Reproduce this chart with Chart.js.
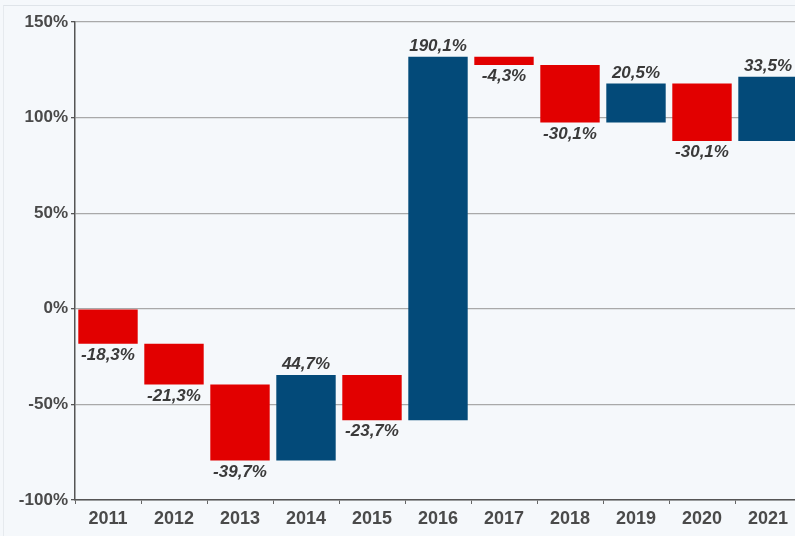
<!DOCTYPE html>
<html>
<head>
<meta charset="utf-8">
<script src="https://cdn.jsdelivr.net/npm/chart.js@4"></script>
<style>
  html, body { margin: 0; padding: 0; overflow: hidden; background: #f5f8fb; }
  #frame { position: absolute; left: 3px; top: 5px; width: 820px; height: 540px;
           border-top: 1px solid #dfe4e9; border-left: 1px solid #e6eaee; }
  #wrap { position: absolute; left: 0; top: 0; width: 801px; height: 536px; }
</style>
</head>
<body>
<div id="frame"></div>
<div id="wrap"><canvas id="myChart"></canvas></div>
<script>
const anos = ['2011', '2012', '2013', '2014', '2015', '2016', '2017', '2018', '2019', '2020', '2021'];
// variação anual em %
const variacoes = [-18.3, -21.3, -39.7, 44.7, -23.7, 190.1, -4.3, -30.1, 20.5, -30.1, 33.5];
const yTicks = [-100, -50, 0, 50, 100, 150];

const VERMELHO = '#e20000';
const AZUL = '#034a79';

// monta as barras flutuantes da cascata (início, fim)
const faixas = [];
let acumulado = 0;
variacoes.forEach(v => {
  faixas.push([acumulado, acumulado + v]);
  acumulado += v;
});
const cores = variacoes.map(v => v < 0 ? VERMELHO : AZUL);

function formatPct(v) {
  return v.toFixed(1).replace('.', ',') + '%';
}

const rotulos = {
  id: 'rotulos',
  afterDatasetsDraw(chart) {
    const ctx = chart.ctx;
    const meta = chart.getDatasetMeta(0);
    const y = chart.scales.y;
    ctx.save();
    ctx.font = 'italic bold 17px "Liberation Sans", Arial, sans-serif';
    ctx.fillStyle = '#3a3a3a';
    ctx.textAlign = 'center';
    meta.data.forEach((bar, i) => {
      const v = variacoes[i];
      const fim = faixas[i][1];
      if (v >= 0) {
        ctx.textBaseline = 'bottom';
        ctx.fillText(formatPct(v), bar.x, y.getPixelForValue(fim) - 2);
      } else {
        ctx.textBaseline = 'top';
        ctx.fillText(formatPct(v), bar.x, y.getPixelForValue(fim) + 3);
      }
    });
    ctx.restore();
  }
};

const ctx = document.getElementById('myChart').getContext('2d');
const chart = new Chart(ctx, {
  type: 'bar',
  data: {
    labels: anos,
    datasets: [{
      data: faixas,
      backgroundColor: cores,
      borderWidth: 0,
      borderSkipped: false,
      barPercentage: 0.9,
      categoryPercentage: 1.0,
    }]
  },
  plugins: [rotulos],
  options: {
    responsive: true,
    maintainAspectRatio: false,
    animation: false,
    layout: { padding: { top: 22, left: 0, right: 0, bottom: 0 } },
    plugins: {
      legend: { display: false },
      tooltip: { enabled: false }
    },
    scales: {
      x: {
        afterFit: s => { s.height = 36; },
        grid: { drawOnChartArea: false, drawTicks: true, tickLength: 4, color: '#666' },
        border: { color: '#555', width: 1.5 },
        ticks: {
          color: '#4a4a4a',
          padding: 4,
          font: { family: '"Liberation Sans", Arial, sans-serif', size: 18, weight: 'bold' }
        }
      },
      y: {
        min: yTicks[0],
        max: yTicks[yTicks.length - 1],
        afterFit: s => { s.width = 75; },
        afterBuildTicks: s => { s.ticks = yTicks.map(v => ({ value: v })); },
        grid: { color: '#a9a9a9', lineWidth: 1.3, tickLength: 4, tickColor: '#555' },
        border: { color: '#555', width: 1.5 },
        ticks: {
          color: '#4a4a4a',
          padding: 3,
          font: { family: '"Liberation Sans", Arial, sans-serif', size: 17, weight: 'bold' },
          callback: v => v + '%'
        }
      }
    }
  }
});
</script>
</body>
</html>
